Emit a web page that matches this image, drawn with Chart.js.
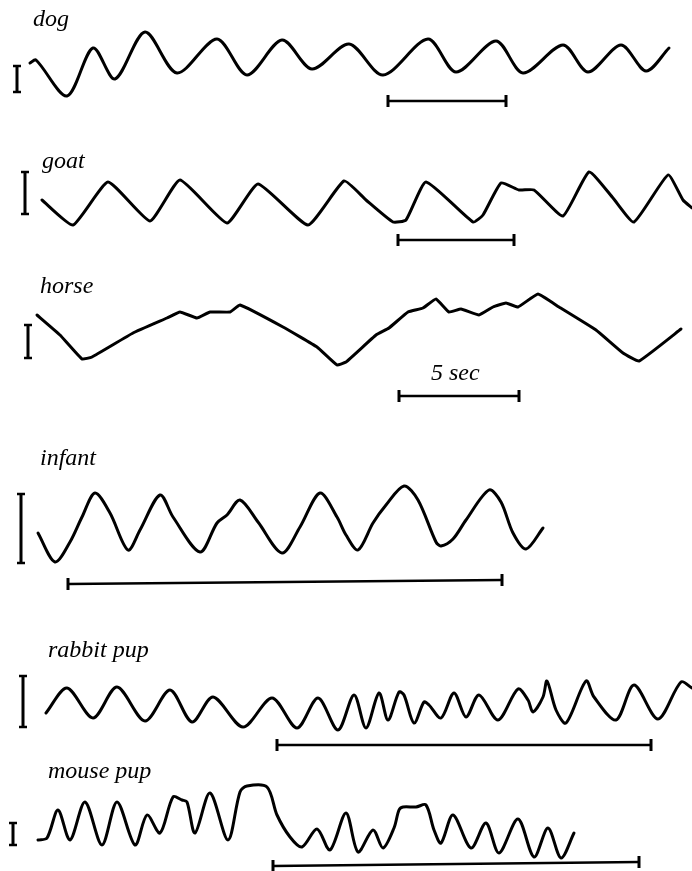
<!DOCTYPE html>
<html>
<head>
<meta charset="utf-8">
<script src="https://cdn.jsdelivr.net/npm/chart.js@4/dist/chart.umd.min.js"></script>
<style>
html, body { margin: 0; padding: 0; background: #fff; }
#fig { position: relative; width: 692px; height: 871px; overflow: hidden; }
#fig canvas { position: absolute; left: 0; }
.lbl { position: absolute; font-family: "Liberation Serif", "Times New Roman", Times, "DejaVu Serif", serif; font-style: italic; font-size: 24px; line-height: 24px; color: #000; white-space: nowrap; }
</style>
</head>
<body>
<div id="fig"></div>
<script>
// breathing traces, time in figure units (the 5 sec bar is ~118 units on the top three)
// amplitude = deflection from the trace midline, upward positive
var dogT = [30,36,67,93,115,145,177,217,247,282,312,349,383,428,456,496,523,563,588,621,646,669];
var dogA = [-3,0,-36,12,-19,28,-13,21,-15,20,-9,16,-15,21,-12,19,-13,15,-12,15,-11,12];

var goatT = [42,73,108,150,180,227,258,308,344,366,393,406,426,473,483,501,519,534,563,589,613,634,668,683,692];
var goatA = [0,-25,18,-21,20,-23,16,-25,19,0,-22,-20,18,-22,-15,17,10,10,-16,28,2,-22,25,0,-8];

var horseT = [37,60,82,92,133,167,180,197,210,230,240,283,317,337,346,376,389,408,423,436,449,461,479,493,506,518,538,559,596,623,639,681];
var horseA = [15,-5,-29,-27,-3,12,18,12,18,18,25,3,-17,-35,-32,-5,2,18,22,31,18,21,15,23,27,23,36,23,0,-23,-31,1];

var infantT = [38,55,70,82,95,110,128,140,160,173,200,217,227,240,258,282,300,320,337,346,358,373,386,404,418,436,441,453,466,489,501,513,526,543];
var infantA = [-13,-42,-22,3,27,7,-30,-10,25,3,-32,-3,5,20,-2,-33,-7,27,3,-15,-30,-3,15,34,20,-22,-26,-19,0,30,18,-13,-29,-8];

var rabbitT = [46,67,93,117,145,170,192,213,243,272,297,318,338,354,366,379,388,399,404,414,424,429,441,454,466,479,498,518,528,533,543,547,556,566,586,594,616,634,658,681,692];
var rabbitA = [-8,17,-13,18,-16,15,-17,8,-22,7,-23,7,-25,10,-23,12,-15,13,10,-18,3,0,-13,12,-12,10,-15,16,5,-7,8,24,-5,-18,24,8,-15,20,-14,23,17];

var mouseT = [38,47,58,70,85,102,117,135,147,160,173,182,187,195,210,228,240,247,267,277,290,302,317,330,346,358,373,383,394,399,403,416,426,434,441,453,471,486,499,518,534,548,561,574];
var mouseA = [-15,-13,15,-15,23,-20,23,-20,10,-8,28,25,23,-8,32,-15,33,39,38,10,-12,-22,-4,-25,12,-27,-5,-23,-3,15,18,18,20,-5,-18,10,-23,2,-28,6,-32,-3,-33,-8];

// time scale bars (start/end) and amplitude calibration bars
var dogBarT = [388,506],    dogBarA = [-41,-41];
var goatBarT = [398,514],   goatBarA = [-40,-40];
var horseBarT = [399,519],  horseBarA = [-66,-66];
var infantBarT = [68,502],  infantBarA = [-64,-60];
var rabbitBarT = [277,651], rabbitBarA = [-40,-40];
var mouseBarT = [273,639],  mouseBarA = [-41,-37];

var dogCal = [-6,-32], goatCal = [28,-14], horseCal = [5,-28], infantCal = [26,-43], rabbitCal = [29,-22], mouseCal = [2,-20];
var calT = [17,25,28,21,23,13];

var names = ["dog","goat","horse","infant","rabbit pup","mouse pup"];

// layout of each strip on the page
var panels = [
  {t: dogT,    a: dogA,    barT: dogBarT,    barA: dogBarA,    cal: dogCal,    top: 0,   h: 115, mid: 60,  lx: 33, lb: 26,  tension: 0.3},
  {t: goatT,   a: goatA,   barT: goatBarT,   barA: goatBarA,   cal: goatCal,   top: 115, h: 140, mid: 200, lx: 42, lb: 168, tension: 0.15},
  {t: horseT,  a: horseA,  barT: horseBarT,  barA: horseBarA,  cal: horseCal,  top: 255, h: 160, mid: 330, lx: 40, lb: 293, tension: 0.1},
  {t: infantT, a: infantA, barT: infantBarT, barA: infantBarA, cal: infantCal, top: 415, h: 185, mid: 520, lx: 40, lb: 465, tension: 0.3},
  {t: rabbitT, a: rabbitA, barT: rabbitBarT, barA: rabbitBarA, cal: rabbitCal, top: 600, h: 160, mid: 705, lx: 48, lb: 657, tension: 0.3},
  {t: mouseT,  a: mouseA,  barT: mouseBarT,  barA: mouseBarA,  cal: mouseCal,  top: 745, h: 126, mid: 825, lx: 48, lb: 778, tension: 0.3}
];

function pts(t, a) {
  return t.map(function (x, i) { return {x: x, y: a[i]}; });
}

var fig = document.getElementById("fig");

panels.forEach(function (p, k) {
  var cv = document.createElement("canvas");
  cv.width = 692;
  cv.height = p.h;
  cv.style.top = p.top + "px";
  fig.appendChild(cv);

  new Chart(cv.getContext("2d"), {
    type: "scatter",
    data: {
      datasets: [
        {
          data: pts(p.t, p.a),
          showLine: true,
          borderColor: "#000",
          borderWidth: 3,
          borderCapStyle: "round",
          borderJoinStyle: "round",
          tension: p.tension,
          pointRadius: 0,
          clip: false
        },
        {
          data: pts(p.barT, p.barA),
          showLine: true,
          borderColor: "#000",
          borderWidth: 2.5,
          pointStyle: "line",
          pointRotation: 90,
          pointRadius: 6,
          pointBorderWidth: 3,
          pointBorderColor: "#000",
          clip: false
        },
        {
          data: pts([calT[k], calT[k]], p.cal),
          showLine: true,
          borderColor: "#000",
          borderWidth: 3,
          pointStyle: "line",
          pointRadius: 4,
          pointBorderWidth: 2.5,
          pointBorderColor: "#000",
          clip: false
        }
      ]
    },
    options: {
      responsive: false,
      animation: false,
      layout: { padding: 0, autoPadding: false },
      scales: {
        x: { type: "linear", display: false, min: 0, max: 692 },
        y: { type: "linear", display: false, min: p.mid - p.top - p.h, max: p.mid - p.top }
      },
      plugins: { legend: { display: false }, tooltip: { enabled: false } }
    }
  });

  var l = document.createElement("div");
  l.className = "lbl";
  l.textContent = names[k];
  l.style.left = p.lx + "px";
  l.style.top = (p.lb - 20) + "px";
  fig.appendChild(l);
});

var s = document.createElement("div");
s.className = "lbl";
s.textContent = "5 sec";
s.style.left = "431px";
s.style.top = (380 - 20) + "px";
fig.appendChild(s);
</script>
</body>
</html>
